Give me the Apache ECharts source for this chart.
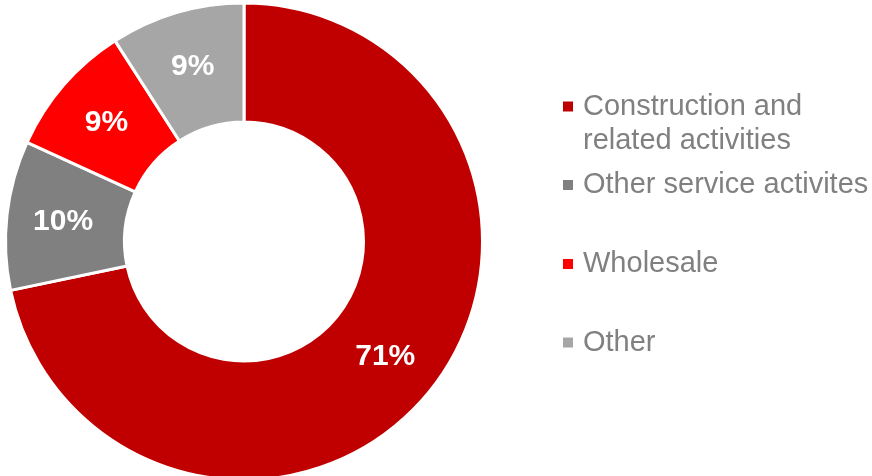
<!DOCTYPE html>
<html>
<head>
<meta charset="utf-8">
<style>
  html, body { margin: 0; padding: 0; background: #ffffff; }
  #chart { width: 872px; height: 476px; }
</style>
<script src="https://cdn.jsdelivr.net/npm/echarts@6/dist/echarts.min.js"></script>
</head>
<body>
<div id="chart"></div>
<script>
// Sector breakdown (share of total, %)
const categories = [
  'Construction and related activities',
  'Other service activites',
  'Wholesale',
  'Other'
];
const shares = [71, 10, 9, 9];
const sliceColors = ['#C00000', '#808080', '#FF0000', '#A6A6A6'];

// Legend rows: top offset of each row and the label shown for it.
// The wrapped entry gets an empty leading line so its marker sits on the first text line.
const legendTops = [55.5, 168, 247, 325.5];
const legendLabels = {
  'Construction and related activities': '\nConstruction and\nrelated activities'
};

const FONT = "'Liberation Sans', Arial, sans-serif";

const chart = echarts.init(document.getElementById('chart'), null, { renderer: 'canvas' });

const pieData = categories.map((name, i) => ({
  name: name,
  value: shares[i],
  itemStyle: { color: sliceColors[i] }
}));

// Square marker, kept square inside a wider item box to leave room before the text
const squareIcon = 'path://M0,0H10V10H0Z';

const legends = categories.map((name, i) => ({
  data: [name],
  orient: 'vertical',
  left: 563,
  top: legendTops[i],
  padding: 0,
  itemWidth: 20,
  itemHeight: 10,
  icon: squareIcon,
  itemStyle: { borderWidth: 0 },
  selectedMode: false,
  formatter: n => legendLabels[n] || n,
  textStyle: {
    color: '#808080',
    fontFamily: FONT,
    fontSize: 29,
    lineHeight: 34
  }
}));

chart.setOption({
  animation: false,
  backgroundColor: '#ffffff',
  legend: legends,
  series: [{
    type: 'pie',
    center: [244, 241.5],
    radius: [119.5, 238.5],
    startAngle: 90,
    clockwise: true,
    avoidLabelOverlap: false,
    itemStyle: { borderColor: '#ffffff', borderWidth: 3 },
    label: {
      show: true,
      position: 'inside',
      formatter: '{c}%',
      color: '#ffffff',
      fontFamily: FONT,
      fontSize: 30,
      fontWeight: 'bold'
    },
    labelLine: { show: false },
    emphasis: { disabled: true },
    data: pieData
  }]
});
</script>
</body>
</html>
